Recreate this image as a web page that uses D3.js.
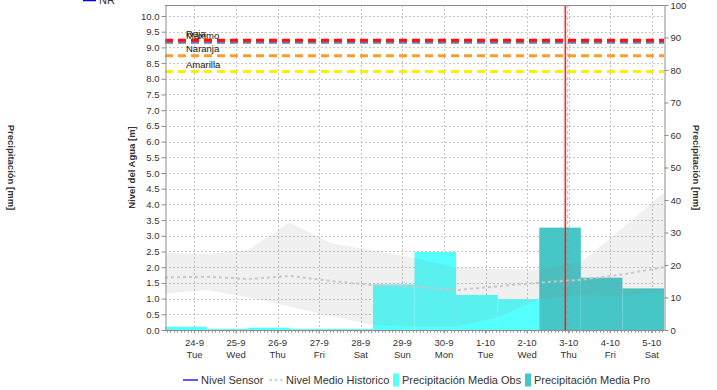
<!DOCTYPE html>
<html>
<head>
<meta charset="utf-8">
<script src="https://cdn.jsdelivr.net/npm/d3@7"></script>
<style>
  body { margin: 0; background: #fff; }
  svg { display: block; font-family: "Liberation Sans", Arial, sans-serif; }
</style>
</head>
<body>
<svg id="chart" width="717" height="390"></svg>
<script>
// Daily windows run 07:00 -> 07:00 and are labelled by the closing day
const days = ["2024-09-24", "2024-09-25", "2024-09-26", "2024-09-27", "2024-09-28", "2024-09-29",
              "2024-09-30", "2024-10-01", "2024-10-02", "2024-10-03", "2024-10-04", "2024-10-05"];
const dayLabels = ["24-9", "25-9", "26-9", "27-9", "28-9", "29-9", "30-9", "1-10", "2-10", "3-10", "4-10", "5-10"];
const weekdayLabels = ["Tue", "Wed", "Thu", "Fri", "Sat", "Sun", "Mon", "Tue", "Wed", "Thu", "Fri", "Sat"];

// Mean precipitation [mm]: observed, then forecast
const precipObs = [1.0, 0.3, 0.7, 0.3, 0.3, 14.0, 24.0, 10.8, 9.5, null, null, null];
const precipPro = [null, null, null, null, null, null, null, null, null, 31.5, 16.1, 12.8];

// Historic water level [m] at each 07:00 boundary, 23-9 through 5-10
const histMedian = [1.67, 1.70, 1.62, 1.72, 1.56, 1.43, 1.38, 1.27, 1.39, 1.51, 1.60, 1.77, 2.00];
const histUpper  = [2.46, 2.42, 2.55, 3.42, 2.76, 2.54, 2.30, 1.98, 1.95, 1.93, 2.15, 3.25, 4.37];
const histLower  = [1.16, 1.27, 1.04, 0.75, 0.44, 0.16, 0.10, 0.10, 0.40, 0.98, 1.11, 1.09, 1.20];

// Alert levels [m]
const thresholdNames  = ["Roja", "Máximo", "Naranja", "Amarilla"];
const thresholdValues = [9.23, 9.16, 8.73, 8.23];
const thresholdColors = ["#ff1010", "#6e78a8", "#ff9c2a", "#ffee00"];

const levelTicks = d3.range(0, 10.01, 0.5);
const precipTicks = d3.range(0, 101, 10);
const nowTime = "2024-10-02T22:00";

const legendNames = ["Nivel Sensor", "Nivel Medio Historico", "Precipitación Media Obs", "Precipitación Media Pro"];

// ---------------------------------------------------------------
const svg = d3.select("#chart");
const plot = { left: 165, right: 664, top: 5, bottom: 330 };
const parse = d3.timeParse("%Y-%m-%d");
const parseT = d3.timeParse("%Y-%m-%dT%H:%M");
const dayDates = days.map(parse);
const winStart = d => d3.timeHour.offset(d, -17);   // previous day 07:00
const winEnd = d => d3.timeHour.offset(d, 7);        // same day 07:00
const boundaries = [winStart(dayDates[0])].concat(dayDates.map(winEnd));

const x = d3.scaleTime().domain([boundaries[0], boundaries[boundaries.length - 1]])
  .range([plot.left, plot.right]);
const yL = d3.scaleLinear().domain([0, 10.35]).range([plot.bottom, plot.top]);
const yR = d3.scaleLinear().domain([0, 100]).range([plot.bottom, plot.top]);

const gridColor = "#c6c6c6";
const axisColor = "#8c8c8c";
const textColor = "#333";

// grid
const grid = svg.append("g");
grid.selectAll("line.h").data(levelTicks.filter(v => v > 0)).join("line")
  .attr("x1", plot.left).attr("x2", plot.right)
  .attr("y1", d => Math.round(yL(d)) + 0.5).attr("y2", d => Math.round(yL(d)) + 0.5)
  .attr("stroke", gridColor).attr("stroke-dasharray", "2,2");
grid.selectAll("line.v").data(dayDates).join("line")
  .attr("x1", d => Math.round(x(d)) + 0.5).attr("x2", d => Math.round(x(d)) + 0.5)
  .attr("y1", plot.top).attr("y2", plot.bottom)
  .attr("stroke", gridColor).attr("stroke-dasharray", "2,2");

// precipitation bars
const bars = svg.append("g");
function drawBars(values, color) {
  bars.selectAll(null).data(dayDates.map((d, i) => ({ d, v: values[i] })).filter(o => o.v != null))
    .join("rect")
    .attr("x", o => x(winStart(o.d)))
    .attr("width", o => x(winEnd(o.d)) - x(winStart(o.d)))
    .attr("y", o => yR(o.v))
    .attr("height", o => yR(0) - yR(o.v))
    .attr("fill", color);
}
const obsColor = "#55ffff", proColor = "#46c6c6";
drawBars(precipObs, obsColor);
drawBars(precipPro, proColor);

// historic band and median
const band = d3.area()
  .x((d, i) => x(boundaries[i]))
  .y0((d, i) => yL(histLower[i]))
  .y1((d, i) => yL(histUpper[i]));
svg.append("path").datum(histUpper).attr("d", band)
  .attr("fill", "rgb(128,128,128)").attr("fill-opacity", 0.12);
const med = d3.line().x((d, i) => x(boundaries[i])).y(d => yL(d));
svg.append("path").datum(histMedian).attr("d", med)
  .attr("fill", "none").attr("stroke", "#c8c8c8").attr("stroke-width", 2)
  .attr("stroke-dasharray", "3,3");

// alert levels
const th = svg.append("g");
thresholdValues.forEach((v, i) => {
  th.append("line")
    .attr("x1", plot.left).attr("x2", plot.right)
    .attr("y1", yL(v)).attr("y2", yL(v))
    .attr("stroke", thresholdColors[i]).attr("stroke-width", 3)
    .attr("stroke-dasharray", "8,5");
});
// the lower-valued lines draw under the red one
th.selectAll("line").filter((d, i) => i === 0).raise();
thresholdValues.forEach((v, i) => {
  th.append("text")
    .attr("x", 186).attr("y", yL(v) - 3.5)
    .attr("font-size", 9.5).attr("fill", "#111")
    .text(thresholdNames[i]);
});

// current time marker
const now = parseT(nowTime);
svg.append("line")
  .attr("x1", x(now)).attr("x2", x(now)).attr("y1", plot.top).attr("y2", plot.bottom)
  .attr("stroke", "#ff7070").attr("stroke-opacity", 0.35).attr("stroke-width", 3);
svg.append("line")
  .attr("x1", x(now)).attr("x2", x(now)).attr("y1", plot.top).attr("y2", plot.bottom)
  .attr("stroke", "#c01010").attr("stroke-width", 1);
svg.append("line")
  .attr("x1", x(now) + 2.5).attr("x2", x(now) + 2.5).attr("y1", plot.top).attr("y2", plot.bottom)
  .attr("stroke", "#888").attr("stroke-opacity", 0.6).attr("stroke-dasharray", "3,3");

// frame top
svg.append("line").attr("x1", plot.left).attr("x2", plot.right + 0.5)
  .attr("y1", plot.top + 0.5).attr("y2", plot.top + 0.5).attr("stroke", axisColor);

// axes
function styleAxis(g) {
  g.selectAll("path.domain").attr("stroke", axisColor);
  g.selectAll(".tick line").attr("stroke", axisColor);
  g.selectAll(".tick text").attr("fill", textColor).attr("font-size", 9.5)
    .attr("font-family", "'Liberation Sans', Arial, sans-serif");
}
const leftAxis = svg.append("g").attr("transform", `translate(${plot.left + 0.5},0)`)
  .call(d3.axisLeft(yL).tickValues(levelTicks).tickFormat(d3.format(".1f")).tickSize(4).tickSizeOuter(0).tickPadding(2));
styleAxis(leftAxis);
const rightAxis = svg.append("g").attr("transform", `translate(${plot.right + 0.5},0)`)
  .call(d3.axisRight(yR).tickValues(precipTicks).tickSize(4).tickSizeOuter(0).tickPadding(2));
styleAxis(rightAxis);

// bottom axis with hourly minor ticks
const bottom = svg.append("g").attr("transform", `translate(0,${plot.bottom + 0.5})`);
bottom.append("line").attr("x1", plot.left).attr("x2", plot.right + 0.5).attr("stroke", axisColor);
bottom.selectAll("line.minor").data(d3.timeHour.every(2).range(boundaries[0], boundaries[boundaries.length - 1]))
  .join("line").attr("x1", d => Math.round(x(d)) + 0.5).attr("x2", d => Math.round(x(d)) + 0.5)
  .attr("y1", 0).attr("y2", 2).attr("stroke", axisColor);
const tk = bottom.selectAll("g.tk").data(dayDates).join("g")
  .attr("transform", d => `translate(${x(d)},0)`);
tk.append("line").attr("y1", 0).attr("y2", 3).attr("stroke", axisColor);
tk.append("text").attr("y", 15).attr("text-anchor", "middle").attr("font-size", 9.5)
  .attr("fill", textColor).text((d, i) => dayLabels[i]);
tk.append("text").attr("y", 27).attr("text-anchor", "middle").attr("font-size", 9.5)
  .attr("fill", textColor).text((d, i) => weekdayLabels[i]);

// axis titles
const titleFont = { size: 9.5, weight: "bold" };
svg.append("text").attr("transform", `translate(135,${(plot.top + plot.bottom) / 2}) rotate(-90)`)
  .attr("text-anchor", "middle").attr("font-size", titleFont.size).attr("font-weight", titleFont.weight)
  .attr("fill", textColor).text("Nivel del Agua [m]");
svg.append("text").attr("transform", `translate(8,${(plot.top + plot.bottom) / 2}) rotate(90)`)
  .attr("text-anchor", "middle").attr("font-size", titleFont.size).attr("font-weight", titleFont.weight)
  .attr("fill", textColor).text("Precipitación [mm]");
svg.append("text").attr("transform", `translate(693,${(plot.top + plot.bottom) / 2}) rotate(90)`)
  .attr("text-anchor", "middle").attr("font-size", titleFont.size).attr("font-weight", titleFont.weight)
  .attr("fill", textColor).text("Precipitación [mm]");

// top legend entry, partly out of view
svg.append("line").attr("x1", 83).attr("x2", 96).attr("y1", 0.5).attr("y2", 0.5)
  .attr("stroke", "#0000ff").attr("stroke-width", 1.5);
svg.append("text").attr("x", 99).attr("y", 3.5).attr("font-size", 11).attr("fill", textColor).text("NR");

// bottom legend
const lg = svg.append("g").attr("font-size", 11).attr("fill", textColor);
const ly = 380;
lg.append("line").attr("x1", 183).attr("x2", 198).attr("y1", ly).attr("y2", ly)
  .attr("stroke", "#0000ff").attr("stroke-width", 1.3);
lg.append("text").attr("x", 201).attr("y", ly + 4).text(legendNames[0]);
lg.append("line").attr("x1", 269).attr("x2", 283).attr("y1", ly).attr("y2", ly)
  .attr("stroke", "#c8c8c8").attr("stroke-width", 1.5).attr("stroke-dasharray", "3,2.5");
lg.append("text").attr("x", 286).attr("y", ly + 4).text(legendNames[1]);
lg.append("rect").attr("x", 393).attr("y", ly - 6.5).attr("width", 6).attr("height", 13).attr("fill", obsColor);
lg.append("text").attr("x", 402).attr("y", ly + 4).text(legendNames[2]);
lg.append("rect").attr("x", 525).attr("y", ly - 6.5).attr("width", 6).attr("height", 13).attr("fill", proColor);
lg.append("text").attr("x", 534).attr("y", ly + 4).text(legendNames[3]);
</script>
</body>
</html>
